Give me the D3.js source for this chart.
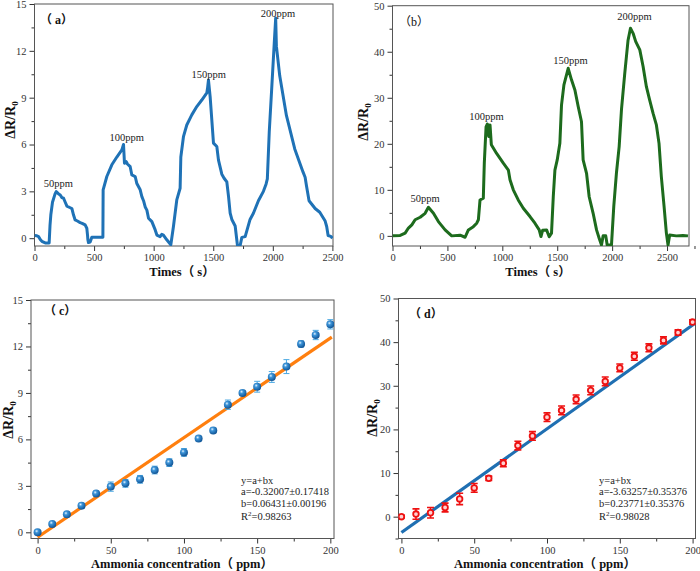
<!DOCTYPE html>
<html><head><meta charset="utf-8">
<script src="https://cdn.jsdelivr.net/npm/d3@7"></script>
<style>
html,body{margin:0;padding:0;background:#fff;}
svg{display:block;}
</style></head>
<body>
<svg id="chart" width="700" height="571"></svg>
<script>
// ---------- DATA ----------
// Panel (a): response vs time (blue)
const aTime = [0,20,34,50,62,90,123,130,137,151,174,182,200,216,230,244,258,272,300,314,327,341,360,383,400,425,439,445,448,453,467,481,574,576,607,649,691,733,747,755,770,780,803,817,845,859,887,901,915,929,943,957,985,1013,1027,1054,1068,1082,1110,1144,1166,1194,1222,1228,1250,1278,1320,1362,1404,1446,1452,1460,1474,1502,1530,1544,1572,1591,1614,1628,1642,1656,1684,1703,1725,1740,1768,1809,1837,1879,1921,1943,1954,1970,1990,2012,2024,2030,2058,2114,2184,2254,2271,2282,2304,2355,2394,2438,2452,2464,2486,2500];
const aValue = [0.17,0.15,0.1,-0.1,-0.2,-0.3,-0.3,0.8,1.5,2.3,2.87,2.98,2.85,2.77,2.6,2.56,2.3,2.05,1.95,1.9,1.5,1.17,1.1,1.0,0.95,0.85,0.64,0.2,-0.1,-0.28,-0.25,0.06,0.06,3.1,3.95,4.7,5.2,5.65,6.0,4.8,4.9,4.75,4.58,4.05,3.95,3.5,3.1,2.66,2.4,2.0,1.8,1.28,1.06,0.53,0.2,0.1,0.25,0.2,-0.1,-0.42,0.75,2.45,3.2,5.2,6.5,7.25,7.9,8.43,8.85,9.3,9.6,10.13,9.07,6.09,5.87,5.0,4.1,3.84,3.6,2.69,1.6,1.2,0.78,-0.45,-0.5,0.05,0.1,1.2,1.6,2.4,3.0,3.46,3.8,6.8,9.5,12.5,14.1,12.3,10.4,7.86,5.72,4.23,3.9,3.37,2.4,1.9,1.66,1.12,0.75,0.17,0.12,0];
// Panel (b): response vs time (green)
const bTime = [0,70,115,145,176,206,252,297,327,373,418,479,539,615,661,691,736,767,782,797,827,836,852,864,876,888,900,948,1009,1055,1070,1100,1145,1191,1252,1297,1336,1352,1367,1403,1427,1448,1464,1479,1500,1524,1539,1561,1600,1630,1661,1691,1721,1736,1767,1791,1827,1858,1882,1903,1918,1942,1955,1994,2015,2039,2064,2085,2115,2145,2167,2191,2215,2252,2282,2312,2342,2373,2403,2427,2448,2473,2494,2509,2524,2585,2645,2691];
const bValue = [0,0.1,0.6,1.7,2.4,3.5,4.05,4.9,6.2,4.9,3.1,1.3,0,0.15,-0.3,1.3,2.0,2.75,3.5,7.8,8.2,15.8,23.7,24.3,21.6,24.1,19.8,17.9,15.8,14.3,12.2,10,7.8,6.0,4.2,2.75,1.3,-0.15,1.2,1.3,-0.2,0.6,8.5,14.3,16.5,20.1,28.4,32.8,36.4,33.9,31.7,28.1,24.8,16.5,13.6,8.5,4.9,1.3,-0.5,-2,0,0,-2,-2,6.4,13.6,19.4,27.4,35.3,42.5,45.1,44,42.2,40.4,36.8,32.4,29.5,26.6,24.1,20.1,12.9,6.4,0.6,-2,0.2,0,0.1,0];
const peakLabels = ["50ppm","100ppm","150ppm","200ppm"];
// Panel (c)
const cConc = [0,10,20,30,40,50,60,70,80,90,100,110,120,130,140,150,160,170,180,190,200];
const cValue = [0,0.54,1.16,1.72,2.5,2.95,3.16,3.42,4.02,4.5,5.16,6.05,6.58,8.24,9.0,9.4,10.03,10.7,12.16,12.74,13.43];
const cErr = [0.1,0.1,0.12,0.15,0.15,0.3,0.25,0.25,0.25,0.25,0.25,0.15,0.15,0.3,0.15,0.35,0.35,0.45,0.2,0.3,0.3];
const cFit = {a:-0.32007, b:0.06431};
const cText = ["y=a+bx","a=-0.32007±0.17418","b=0.06431±0.00196","R2=0.98263"];
// Panel (d)
const dConc = [0,10,20,30,40,50,60,70,80,90,100,110,120,130,140,150,160,170,180,190,200];
const dValue = [0,0.6,0.9,2.1,4.06,6.6,8.8,12.25,16.3,18.5,22.8,24.35,26.9,28.95,31.0,34.1,36.75,38.7,40.4,42.2,44.6];
const dErr = [0.3,1.2,1.2,1.0,1.3,1.0,0.5,0.8,1.0,1.0,1.0,1.0,1.0,1.0,1.0,0.9,0.9,0.9,0.8,0.6,0.5];
const dFit = {a:-3.63257, b:0.23771};
const dText = ["y=a+bx","a=-3.63257±0.35376","b=0.23771±0.35376","R2=0.98028"];

// ---------- DRAWING ----------
const SERIF = "'Liberation Serif','Times New Roman','Noto Sans CJK SC',serif";
const svg = d3.select("#chart");
const defs = svg.append("defs");
const grad = defs.append("radialGradient").attr("id","sphere").attr("cx","38%").attr("cy","35%").attr("r","70%");
grad.append("stop").attr("offset","0%").attr("stop-color","#e6f4ff");
grad.append("stop").attr("offset","30%").attr("stop-color","#3d95d9");
grad.append("stop").attr("offset","100%").attr("stop-color","#0b4d8e");

function panel(cfg){
  const x = d3.scaleLinear().domain(cfg.xd).range(cfg.xr);
  const y = d3.scaleLinear().domain(cfg.yd).range(cfg.yr);
  const g = svg.append("g");
  const cid = "clip"+cfg.id;
  defs.append("clipPath").attr("id",cid).append("rect")
    .attr("x",cfg.xr[0]).attr("y",cfg.yr[1]).attr("width",cfg.xr[1]-cfg.xr[0]).attr("height",cfg.yr[0]-cfg.yr[1]);
  // minor ticks
  const xMinor = d3.axisBottom(x).tickValues(d3.range(cfg.xMinor[0], cfg.xMinor[1]+1e-9, cfg.xMinor[2])).tickSize(3).tickFormat("");
  const yMinor = d3.axisLeft(y).tickValues(d3.range(cfg.yMinor[0], cfg.yMinor[1]+1e-9, cfg.yMinor[2])).tickSize(3).tickFormat("");
  g.append("g").attr("transform",`translate(0,${cfg.yr[0]})`).call(xMinor);
  g.append("g").attr("transform",`translate(${cfg.xr[0]},0)`).call(yMinor);
  const xAx = d3.axisBottom(x).tickValues(cfg.xTicks).tickSize(5).tickPadding(3).tickFormat(d3.format("d"));
  const yAx = d3.axisLeft(y).tickValues(cfg.yTicks).tickSize(5).tickPadding(3).tickFormat(d3.format("d"));
  g.append("g").attr("class","ax").attr("transform",`translate(0,${cfg.yr[0]})`).call(xAx);
  g.append("g").attr("class","ax").attr("transform",`translate(${cfg.xr[0]},0)`).call(yAx);
  g.selectAll(".domain").remove();
  g.selectAll(".tick line").attr("stroke","#333").attr("stroke-width",1);
  g.selectAll(".ax text").attr("font-family",SERIF).attr("font-size",10.5).attr("fill","#333");
  // frame
  g.append("rect").attr("x",cfg.xr[0]).attr("y",cfg.yr[1]).attr("width",cfg.xr[1]-cfg.xr[0]).attr("height",cfg.yr[0]-cfg.yr[1])
    .attr("fill","none").attr("stroke","#555").attr("stroke-width",1);
  // y label
  const yl = g.append("text").attr("transform",`translate(${cfg.ylx},${cfg.yly}) rotate(-90)`)
    .attr("text-anchor","middle").attr("font-family",SERIF).attr("font-weight","bold").attr("font-size",14).attr("fill","#111");
  yl.append("tspan").text("ΔR/R");
  yl.append("tspan").attr("font-size",9).attr("dy",3).text("0");
  // x label
  g.append("text").attr("x",cfg.xlx).attr("y",cfg.xly).attr("text-anchor","middle")
    .attr("font-family",SERIF).attr("font-weight","bold").attr("font-size",12.5).attr("fill","#111").text(cfg.xlabel);
  // panel tag
  g.append("text").attr("x",cfg.tagx).attr("y",cfg.tagy).attr("font-family",SERIF)
    .attr("font-weight",cfg.tagBold?"bold":"normal").attr("font-size",12).attr("fill","#111").text(cfg.tag);
  return {x,y,g,cid};
}

// (a)
{
  const p = panel({id:"a", xd:[0,2505], xr:[34.5,333], yd:[-0.5,15], yr:[246,4],
    xTicks:[0,500,1000,1500,2000,2500], yTicks:[0,3,6,9,12,15],
    xMinor:[250,2250,500], yMinor:[1.5,13.5,3],
    ylx:15, yly:120, xlx:182, xly:276, xlabel:"Times（ s）", tag:"（ a）", tagx:40, tagy:24, tagBold:true});
  const pts = aTime.map((t,i)=>[t,aValue[i]]);
  p.g.append("path").datum(pts).attr("clip-path",`url(#${p.cid})`)
    .attr("d", d3.line().x(d=>p.x(d[0])).y(d=>p.y(d[1])))
    .attr("fill","none").attr("stroke","#1f72b6").attr("stroke-width",3).attr("stroke-linejoin","round");
  const anc = [[200,3.3],[773,6.23],[1461,10.26],[2044,14.17]];
  peakLabels.forEach((s,i)=>p.g.append("text").attr("x",p.x(anc[i][0])).attr("y",p.y(anc[i][1]))
    .attr("text-anchor","middle").attr("font-family",SERIF).attr("font-size",10.5).attr("fill","#222").text(s));
}
// (b)
{
  const p = panel({id:"b", xd:[0,2700], xr:[392.5,689], yd:[-2.2,50], yr:[246,5.7],
    xTicks:[0,500,1000,1500,2000,2500], yTicks:[0,10,20,30,40,50],
    xMinor:[250,2750,500], yMinor:[5,45,10],
    ylx:368, yly:122, xlx:538, xly:276, xlabel:"Times（ s）", tag:"（b）", tagx:399, tagy:26, tagBold:false});
  const pts = bTime.map((t,i)=>[t,bValue[i]]);
  p.g.append("path").datum(pts).attr("clip-path",`url(#${p.cid})`)
    .attr("d", d3.line().x(d=>p.x(d[0])).y(d=>p.y(d[1])))
    .attr("fill","none").attr("stroke","#1d6b1d").attr("stroke-width",3).attr("stroke-linejoin","round");
  const anc = [[296,7.4],[856,25.2],[1621,37.3],[2204,46.9]];
  peakLabels.forEach((s,i)=>p.g.append("text").attr("x",p.x(anc[i][0])).attr("y",p.y(anc[i][1]))
    .attr("text-anchor","middle").attr("font-family",SERIF).attr("font-size",10.5).attr("fill","#222").text(s));
}
function annot(p, lines, x0, ys){
  lines.forEach((s,i)=>{
    const t = p.g.append("text").attr("x",x0).attr("y",ys[i]).attr("font-family",SERIF).attr("font-size",10.5).attr("fill","#222");
    if(s.startsWith("R2")){
      t.append("tspan").text("R");
      t.append("tspan").attr("font-size",7).attr("dy",-4).text("2");
      t.append("tspan").attr("dy",4).text(s.slice(2));
    } else t.text(s);
  });
}
// (c)
{
  const p = panel({id:"c", xd:[-4.5,202.5], xr:[31,334], yd:[-0.4,15], yr:[538.5,300],
    xTicks:[0,50,100,150,200], yTicks:[0,3,6,9,12,15],
    xMinor:[25,175,50], yMinor:[1.5,13.5,3],
    ylx:13, yly:420, xlx:182, xly:568, xlabel:"Ammonia concentration（ ppm）", tag:"（ c）", tagx:44, tagy:315, tagBold:true});
  const gc = p.g.append("g").attr("clip-path",`url(#${p.cid})`);
  gc.append("line").attr("x1",p.x(0)).attr("y1",p.y(cFit.a)).attr("x2",p.x(201)).attr("y2",p.y(cFit.a+cFit.b*201))
    .attr("stroke","#ff7f0e").attr("stroke-width",3.2);
  cConc.forEach((c,i)=>{
    const X=p.x(c), y1=p.y(cValue[i]-cErr[i]), y2=p.y(cValue[i]+cErr[i]);
    gc.append("line").attr("x1",X).attr("x2",X).attr("y1",y1).attr("y2",y2).attr("stroke","#4aa8e2").attr("stroke-width",1);
    [y1,y2].forEach(yy=>gc.append("line").attr("x1",X-3).attr("x2",X+3).attr("y1",yy).attr("y2",yy).attr("stroke","#4aa8e2").attr("stroke-width",1));
    gc.append("circle").attr("cx",X).attr("cy",p.y(cValue[i])).attr("r",4).attr("fill","url(#sphere)");
  });
  annot(p, cText, 241, [484,495,507,520]);
}
// (d)
{
  const p = panel({id:"d", xd:[-2,202], xr:[398.5,695.5], yd:[-5,50], yr:[538.5,298.5],
    xTicks:[0,50,100,150,200], yTicks:[0,10,20,30,40,50],
    xMinor:[25,175,50], yMinor:[-5,45,10],
    ylx:377, yly:418, xlx:545, xly:568, xlabel:"Ammonia concentration（ ppm）", tag:"（ d）", tagx:409, tagy:318, tagBold:true});
  const gc = p.g.append("g").attr("clip-path",`url(#${p.cid})`);
  gc.append("line").attr("x1",p.x(0)).attr("y1",p.y(dFit.a)).attr("x2",p.x(201)).attr("y2",p.y(dFit.a+dFit.b*201))
    .attr("stroke","#1f6fb2").attr("stroke-width",3.2);
  dConc.forEach((c,i)=>{
    const X=p.x(c), y1=p.y(dValue[i]-dErr[i]), y2=p.y(dValue[i]+dErr[i]);
    gc.append("line").attr("x1",X).attr("x2",X).attr("y1",y1).attr("y2",y2).attr("stroke","#ee1111").attr("stroke-width",1.6);
    [y1,y2].forEach(yy=>gc.append("line").attr("x1",X-3.5).attr("x2",X+3.5).attr("y1",yy).attr("y2",yy).attr("stroke","#ee1111").attr("stroke-width",1.6));
    gc.append("circle").attr("cx",X).attr("cy",p.y(dValue[i])).attr("r",2.8).attr("fill","#ffd0d0").attr("stroke","#ee1111").attr("stroke-width",1.8);
  });
  annot(p, dText, 599, [484,495,507,520]);
}
</script>
</body></html>
